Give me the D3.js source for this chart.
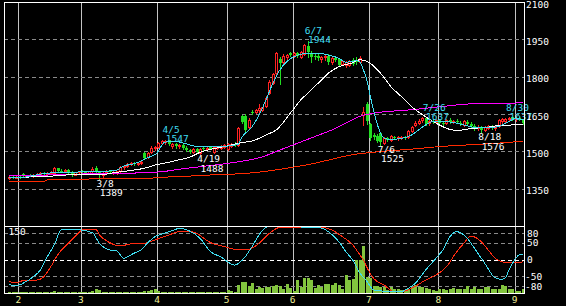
<!DOCTYPE html>
<html>
<head>
<meta charset="utf-8">
<script src="https://cdn.jsdelivr.net/npm/d3@7"></script>
<style>
  html, body { margin: 0; padding: 0; background: #000; }
  svg { display: block; }
</style>
</head>
<body>
<svg id="chart" width="566" height="306"></svg>
<script>
// trading days, 2022-01-27 .. 2022-09-05
const dates = [
  "1/27","1/28","1/31",
  "2/1","2/2","2/3","2/4","2/7","2/8","2/9","2/10","2/14","2/15","2/16","2/17","2/18","2/21","2/22","2/24","2/25","2/28",
  "3/1","3/2","3/3","3/4","3/7","3/8","3/9","3/10","3/11","3/14","3/15","3/16","3/17","3/18","3/22","3/23","3/24","3/25","3/28","3/29","3/30","3/31",
  "4/1","4/4","4/5","4/6","4/7","4/8","4/11","4/12","4/13","4/14","4/15","4/18","4/19","4/20","4/21","4/22","4/25","4/26","4/27","4/28",
  "5/2","5/6","5/9","5/10","5/11","5/12","5/13","5/16","5/17","5/18","5/19","5/20","5/23","5/24","5/25","5/26","5/27","5/30","5/31",
  "6/1","6/2","6/3","6/6","6/7","6/8","6/9","6/10","6/13","6/14","6/15","6/16","6/17","6/20","6/21","6/22","6/23","6/24","6/27","6/28","6/29","6/30",
  "7/1","7/4","7/5","7/6","7/7","7/8","7/11","7/12","7/13","7/14","7/15","7/19","7/20","7/21","7/22","7/25","7/26","7/27","7/28","7/29",
  "8/1","8/2","8/3","8/4","8/5","8/8","8/9","8/10","8/12","8/15","8/16","8/17","8/18","8/19","8/22","8/23","8/24","8/25","8/26","8/29","8/30","8/31",
  "9/1","9/2","9/5"
];

// [open, high, low, close]
const ohlc = [
  [1394,1400,1390,1398],[1398,1401,1391,1392],[1393,1399,1391,1397],
  [1398,1403,1394,1396],[1410,1414,1398,1400],[1400,1406,1397,1403],[1403,1408,1399,1401],[1401,1409,1398,1406],
  [1406,1412,1403,1410],[1410,1416,1406,1413],[1413,1418,1408,1411],[1410,1415,1404,1412],[1412,1420,1409,1416],
  [1414,1438,1412,1434],[1432,1435,1418,1422],[1422,1428,1417,1420],[1420,1430,1418,1427],[1426,1429,1414,1418],
  [1418,1420,1402,1406],[1406,1418,1404,1415],[1415,1422,1411,1419],
  [1420,1425,1414,1416],[1416,1420,1408,1411],[1411,1422,1410,1420],[1420,1436,1418,1428],[1435,1440,1418,1420],
  [1418,1422,1389,1405],[1405,1415,1398,1412],[1415,1425,1410,1422],[1422,1426,1412,1415],[1414,1420,1408,1417],
  [1415,1422,1410,1419],[1420,1440,1418,1437],[1437,1446,1430,1442],[1442,1452,1438,1448],[1450,1458,1444,1452],
  [1452,1456,1445,1448],[1450,1458,1446,1455],[1455,1462,1450,1458],[1494,1498,1468,1472],[1478,1496,1474,1493],
  [1496,1520,1494,1515],[1512,1522,1505,1518],
  [1518,1536,1515,1532],[1532,1544,1528,1540],[1538,1547,1530,1542],[1544,1546,1525,1528],[1520,1534,1512,1530],
  [1530,1534,1515,1520],[1520,1530,1512,1526],[1526,1530,1510,1514],[1514,1520,1500,1504],[1504,1508,1494,1498],
  [1498,1514,1495,1510],[1508,1512,1492,1496],[1494,1514,1488,1510],[1512,1518,1505,1508],[1508,1516,1504,1512],
  [1516,1520,1508,1510],[1496,1522,1492,1518],[1514,1522,1510,1520],[1512,1525,1508,1522],[1518,1530,1514,1526],
  [1508,1535,1505,1530],[1522,1532,1518,1528],[1530,1538,1522,1526],[1525,1598,1520,1592],[1640,1646,1612,1618],
  [1642,1650,1580,1585],[1598,1632,1594,1626],[1660,1668,1650,1656],[1660,1672,1655,1668],[1666,1690,1660,1676],
  [1668,1680,1662,1678],[1682,1722,1678,1716],[1735,1785,1730,1780],[1775,1815,1770,1810],[1816,1900,1812,1895],
  [1872,1880,1770,1856],[1858,1890,1852,1885],[1880,1892,1866,1888],[1895,1900,1882,1886],
  [1886,1900,1880,1895],[1895,1898,1878,1882],[1880,1905,1876,1900],[1890,1932,1888,1928],[1925,1944,1880,1898],
  [1895,1902,1860,1880],[1885,1890,1872,1880],[1882,1890,1868,1875],[1872,1885,1860,1880],[1878,1888,1868,1884],
  [1884,1890,1850,1860],[1858,1878,1850,1875],[1874,1880,1862,1866],[1872,1875,1842,1848],[1850,1868,1845,1862],
  [1846,1862,1840,1858],[1848,1866,1844,1862],[1868,1874,1848,1852],[1862,1880,1850,1858],[1858,1882,1855,1875],
  [1645,1680,1606,1660],[1690,1700,1610,1620],
  [1610,1615,1546,1555],[1565,1574,1548,1556],[1560,1568,1538,1542],[1572,1576,1525,1538],[1532,1556,1528,1552],
  [1552,1558,1540,1545],[1545,1565,1542,1560],[1558,1562,1548,1552],[1552,1560,1546,1556],[1555,1560,1548,1558],
  [1556,1562,1550,1554],[1556,1585,1554,1580],[1580,1602,1576,1598],[1606,1620,1600,1615],[1612,1628,1608,1622],
  [1624,1636,1618,1632],[1632,1637,1605,1610],[1612,1625,1606,1620],[1622,1630,1612,1616],[1618,1628,1614,1624],
  [1624,1630,1612,1615],[1615,1622,1605,1610],[1612,1630,1610,1625],[1625,1632,1614,1618],[1618,1626,1612,1620],
  [1620,1630,1614,1616],[1615,1622,1604,1608],[1606,1624,1602,1620],[1618,1626,1606,1610],[1610,1618,1598,1602],
  [1600,1610,1586,1590],[1592,1604,1584,1598],[1598,1602,1576,1586],[1586,1600,1582,1596],[1594,1606,1588,1600],
  [1598,1604,1588,1592],[1592,1602,1586,1598],[1600,1628,1598,1624],[1620,1632,1612,1628],[1622,1634,1615,1630],
  [1632,1637,1622,1634],[1636,1636,1626,1630],
  [1628,1636,1622,1634],[1634,1636,1624,1628],[1626,1630,1610,1614]
];

const volume = [
  3,2,3,2,3,2,2,3,2,2,3,2,3,4,3,2,3,2,3,2,3,2,3,3,4,
  9,6,
  3,2,3,2,3,2,3,3,2,3,3,2,4,5,
  7,10,
  4,3,3,3,2,3,2,3,2,2,3,2,3,3,2,3,2,3,3,2,
  6,4,3,
  19,24,25,16,22,10,13,12,13,13,16,18,15,10,21,12,5,28,13,34,
  34,30,11,19,13,21,21,19,22,19,8,41,28,31,75,73,106,36,34,15,
  16,13,14,7,13,10,9,6,7,9,13,17,13,13,11,10,7,5,9,9,
  6,9,11,10,9,8,16,10,13,10,9,13,14,9,9,10,19,15,10,9,4,4,10
];

// moving averages: [date, price]
const maShort = [
  ["1/27",1395],["2/1",1393],["2/4",1400],["2/15",1413],["2/21",1413],["2/28",1417],["3/4",1420],["3/11",1421],
  ["3/15",1425],["3/17",1441],["3/23",1450],["3/25",1461],["3/29",1475],["3/30",1480],["4/1",1500],["4/4",1525],
  ["4/5",1537],["4/8",1540],["4/13",1530],["4/19",1518],["4/22",1518],["4/28",1520],["5/10",1528],["5/11",1555],
  ["5/16",1599],["5/18",1646],["5/20",1706],["5/24",1774],["5/26",1827],["5/30",1860],["6/1",1880],["6/7",1894],
  ["6/10",1894],["6/15",1887],["6/20",1874],["6/22",1858],["6/27",1864],["6/28",1860],["6/29",1830],["6/30",1790],
  ["7/1",1725],["7/4",1664],["7/5",1612],["7/6",1574],["7/7",1553],["7/11",1548],["7/14",1552],["7/20",1566],
  ["7/22",1586],["7/26",1606],["7/28",1619],["8/3",1619],["8/8",1613],["8/12",1602],["8/17",1595],["8/22",1595],
  ["8/25",1599],["8/26",1606],["8/30",1619],["9/1",1633],["9/5",1626]
];
const maMid = [
  ["1/27",1396],["2/10",1398],["2/22",1405],["3/8",1405],["3/14",1414],["3/23",1425],["3/28",1432],["3/31",1445],
  ["4/6",1456],["4/11",1466],["4/14",1476],["4/19",1496],["4/28",1519],["5/10",1532],["5/17",1546],["5/20",1566],
  ["5/25",1586],["5/31",1653],["6/3",1706],["6/8",1746],["6/13",1787],["6/15",1814],["6/20",1840],["6/24",1856],
  ["6/28",1868],["6/30",1862],["7/1",1854],["7/6",1814],["7/11",1760],["7/14",1720],["7/20",1679],["7/26",1639],
  ["7/29",1613],["8/4",1588],["8/8",1584],["8/16",1593],["8/19",1595],["8/24",1602],["9/1",1606],["9/5",1606]
];
const maLong = [
  ["1/27",1404],["2/15",1405],["3/2",1409],["3/11",1409],["3/25",1414],["4/4",1418],["4/11",1428],["4/19",1438],
  ["5/2",1452],["5/19",1478],["5/26",1505],["6/2",1532],["6/9",1559],["6/16",1586],["6/22",1613],["6/28",1640],
  ["7/7",1659],["7/12",1662],["7/19",1666],["7/26",1673],["8/3",1682],["8/10",1689],["8/19",1693],["8/26",1693],
  ["9/5",1695]
];
const maLonger = [
  ["1/27",1378],["2/10",1379],["2/14",1385],["3/2",1386],["3/3",1389],["3/18",1390],["3/22",1392],["4/1",1393],
  ["4/5",1396],["4/12",1400],["4/19",1402],["4/26",1407],["5/11",1410],["5/19",1418],["5/30",1432],["6/9",1452],
  ["6/15",1465],["6/27",1489],["7/1",1495],["7/6",1499],["7/20",1509],["8/1",1519],["8/17",1528],["8/29",1535],
  ["9/5",1541]
];

// oscillators (lower panel): [date, value]
const rciShort = [
  ["1/27",-75],["1/31",-80],["2/2",-72],["2/7",-52],["2/9",-32],["2/14",8],["2/16",44],["2/18",89],["2/21",91],
  ["2/28",90],["3/4",81],["3/8",49],["3/11",29],["3/15",26],["3/17",4],["3/23",19],["3/25",29],["3/29",51],
  ["3/31",69],["4/4",77],["4/7",87],["4/11",94],["4/14",86],["4/19",64],["4/22",24],["4/27",8],["5/9",-17],
  ["5/12",8],["5/16",39],["5/18",74],["5/20",97],["5/23",100],["6/2",100],["6/6",97],["6/10",97],["6/15",84],
  ["6/20",54],["6/22",24],["6/24",-2],["6/28",-40],["6/30",-65],["7/4",-92],["7/6",-95],["7/14",-97],["7/19",-87],
  ["7/21",-72],["7/26",-32],["7/29",4],["8/2",29],["8/4",69],["8/8",84],["8/9",81],["8/12",64],["8/16",35],
  ["8/19",-11],["8/24",-55],["8/26",-60],["8/29",-55],["8/30",-32],["9/1",4],["9/2",14],["9/5",14]
];
const rciLong = [
  ["1/27",-67],["1/31",-70],["2/2",-64],["2/8",-62],["2/10",-52],["2/15",-22],["2/17",14],["2/22",49],["2/25",69],
  ["3/1",89],["3/2",91],["3/7",91],["3/8",75],["3/11",51],["3/16",41],["3/22",47],["3/28",49],["3/31",59],
  ["4/6",74],["4/12",86],["4/14",86],["4/18",79],["4/22",51],["4/28",39],["5/9",31],["5/13",31],["5/18",49],
  ["5/23",79],["5/26",97],["6/13",97],["6/16",89],["6/21",69],["6/24",44],["6/28",15],["6/29",0],["6/30",-22],
  ["7/4",-57],["7/7",-77],["7/12",-97],["7/14",-97],["7/20",-87],["7/26",-62],["7/29",-47],["8/3",-22],["8/8",24],
  ["8/10",49],["8/15",71],["8/18",54],["8/22",29],["8/24",4],["8/26",-7],["8/30",-10],["9/1",-10],["9/5",-7]
];

const extremes = [
  { date: "3/8",  value: 1389, kind: "low" },
  { date: "4/5",  value: 1547, kind: "high" },
  { date: "4/19", value: 1488, kind: "low" },
  { date: "6/7",  value: 1944, kind: "high" },
  { date: "7/6",  value: 1525, kind: "low" },
  { date: "7/26", value: 1637, kind: "high" },
  { date: "8/18", value: 1576, kind: "low" },
  { date: "8/30", value: 1637, kind: "high" }
];

const priceTicks = [2100, 1950, 1800, 1650, 1500, 1350];
const rciTicks = [80, 50, 0, -50, -80];
const volumeMax = 150;

// ---- layout ----
const L = 4, R = 524, T = 2, MID = 226, B = 293;
const FONT = "'DejaVu Sans Mono', monospace";
const UP = "#ff2222", DOWN = "#22dd22";

const svg = d3.select("#chart");
svg.append("rect").attr("width", 566).attr("height", 306).attr("fill", "#000");

const x = d3.scaleLinear().domain([0, dates.length - 1]).range([9.1, 522.8]);
const xGrid = d3.scaleLinear().domain([0, dates.length - 1]).range([7.9, 521.6]);
const y = d3.scaleLinear().domain([1200, 2100]).range([MID, T]);
const yr = d3.scaleLinear().domain([-100, 100]).range([292.6, 226.4]);
const yv = d3.scaleLinear().domain([0, volumeMax]).range([B, MID]);

const index = new Map(dates.map((d, i) => [d, i]));
const col = i => Math.round(x(i));
const crisp = v => Math.round(v) + 0.5;

const monthStarts = dates
  .map((d, i) => i)
  .filter(i => i > 0 && dates[i].split("/")[0] !== dates[i - 1].split("/")[0]);

// ---- grid ----
const grid = svg.append("g").attr("shape-rendering", "crispEdges");

grid.selectAll("line.v").data(monthStarts).join("line")
  .attr("x1", i => crisp(xGrid(i))).attr("x2", i => crisp(xGrid(i)))
  .attr("y1", T).attr("y2", B)
  .attr("stroke", "#c4c4c4");

grid.selectAll("line.p").data(priceTicks.slice(1)).join("line")
  .attr("x1", L).attr("x2", R)
  .attr("y1", d => crisp(y(d))).attr("y2", d => crisp(y(d)))
  .attr("stroke", "#8a8a8a").attr("stroke-dasharray", "4,3");

grid.selectAll("line.r").data(rciTicks).join("line")
  .attr("x1", L).attr("x2", R)
  .attr("y1", d => crisp(yr(d))).attr("y2", d => crisp(yr(d)))
  .attr("stroke", d => d === 0 ? "#ffffff" : "#8a8a8a")
  .attr("stroke-dasharray", "4,3");

// ---- volume ----
svg.append("g").attr("shape-rendering", "crispEdges")
  .selectAll("rect").data(volume).join("rect")
  .attr("x", (d, i) => col(i) - 1)
  .attr("width", 3)
  .attr("y", d => Math.round(yv(d)))
  .attr("height", d => B - Math.round(yv(d)))
  .attr("fill", "#82c43e");

// ---- candles ----
const bars = ohlc.map(([o, h, l, c], i) => ({ i, o, h, l, c, up: c >= o }));

const main = svg.append("g");
main.append("clipPath").attr("id", "clipMain")
  .append("rect").attr("x", L).attr("y", T).attr("width", R - L).attr("height", MID - T);

const candles = main.append("g").attr("shape-rendering", "crispEdges");

candles.selectAll("line").data(bars).join("line")
  .attr("x1", d => col(d.i) + 0.5).attr("x2", d => col(d.i) + 0.5)
  .attr("y1", d => Math.round(y(d.h))).attr("y2", d => Math.round(y(d.l)) + 1)
  .attr("stroke", d => d.up ? UP : DOWN);

candles.selectAll("rect.up").data(bars.filter(d => d.up)).join("rect")
  .attr("class", "up")
  .attr("x", d => col(d.i) - 0.5)
  .attr("y", d => crisp(y(d.c)))
  .attr("width", 2)
  .attr("height", d => Math.max(1, Math.round(y(d.o)) - Math.round(y(d.c))))
  .attr("fill", "#000").attr("stroke", UP);

candles.selectAll("rect.down").data(bars.filter(d => !d.up)).join("rect")
  .attr("class", "down")
  .attr("x", d => col(d.i) - 1)
  .attr("y", d => Math.round(y(d.o)))
  .attr("width", 3)
  .attr("height", d => Math.max(1, Math.round(y(d.c)) - Math.round(y(d.o))))
  .attr("fill", DOWN);

// ---- moving averages ----
const priceLine = d3.line()
  .x(d => x(index.get(d[0])))
  .y(d => y(d[1]))
  .curve(d3.curveMonotoneX);

const maLayer = main.append("g").attr("clip-path", "url(#clipMain)");
[[maLonger, "#ff2a00"], [maLong, "#ff00ff"], [maMid, "#ffffff"], [maShort, "#3fdcf0"]]
  .forEach(([data, color]) => {
    maLayer.append("path").datum(data)
      .attr("d", priceLine)
      .attr("fill", "none")
      .attr("stroke", color)
      .attr("stroke-width", 1)
      .attr("shape-rendering", "crispEdges");
  });

// ---- oscillators ----
const rciLine = d3.line()
  .x(d => x(index.get(d[0])))
  .y(d => yr(d[1]))
  .curve(d3.curveMonotoneX);

[[rciLong, "#ff2a10"], [rciShort, "#3fdcf0"]].forEach(([data, color]) => {
  svg.append("path").datum(data)
    .attr("d", rciLine)
    .attr("fill", "none")
    .attr("stroke", color)
    .attr("stroke-width", 1)
    .attr("shape-rendering", "crispEdges");
});

// ---- high / low marks ----
const marks = svg.append("g")
  .attr("font-family", FONT).attr("font-size", "9.5px");

extremes.forEach(e => {
  const cx = x(index.get(e.date));
  const cy = y(e.value);
  const high = e.kind === "high";
  const fill = high ? "#3fdcf0" : "#ffffff";
  marks.append("text")
    .attr("x", cx - 2.8).attr("y", high ? cy - 6.5 : cy + 8)
    .attr("fill", fill).text(e.date);
  marks.append("text")
    .attr("x", cx + 0.5).attr("y", high ? cy + 2.5 : cy + 17.3)
    .attr("fill", fill).text(e.value);
});

// ---- frames ----
const frame = svg.append("g").attr("shape-rendering", "crispEdges")
  .attr("fill", "none").attr("stroke", "#ffffff");
frame.append("rect").attr("x", L + 0.5).attr("y", T + 0.5).attr("width", R - L).attr("height", B - T);
frame.append("line").attr("x1", L).attr("x2", R + 1).attr("y1", MID + 0.5).attr("y2", MID + 0.5);

svg.append("text")
  .attr("x", 8.5).attr("y", 235)
  .attr("font-family", FONT).attr("font-size", "9.5px")
  .attr("fill", "#ffffff").text(volumeMax);

// ---- axes ----
function styleAxis(g, color) {
  g.select(".domain").remove();
  g.selectAll(".tick line").remove();
  g.selectAll("text")
    .attr("font-family", FONT).attr("font-size", "9.5px")
    .attr("fill", color);
}

svg.append("g")
  .attr("transform", `translate(${R},0)`)
  .call(d3.axisRight(y).tickValues(priceTicks).tickSize(0).tickPadding(2).tickFormat(d => String(d)))
  .call(g => styleAxis(g, "#ffffff"))
  .call(g => g.selectAll("text").attr("dy", "0.55em"));

svg.append("g")
  .attr("transform", `translate(${R},0)`)
  .call(d3.axisRight(yr).tickValues(rciTicks).tickSize(0).tickPadding(3).tickFormat(d => String(d)))
  .call(g => styleAxis(g, "#ffffff"))
  .call(g => g.selectAll(".tick").filter(d => d < 0).select("text").attr("x", 1));

svg.append("g")
  .attr("transform", `translate(-0.5,${B})`)
  .call(d3.axisBottom(xGrid).tickValues(monthStarts).tickSize(0).tickPadding(3.5)
    .tickFormat(i => dates[i].split("/")[0]))
  .call(g => styleAxis(g, "#f2f29a"));
</script>
</body>
</html>
